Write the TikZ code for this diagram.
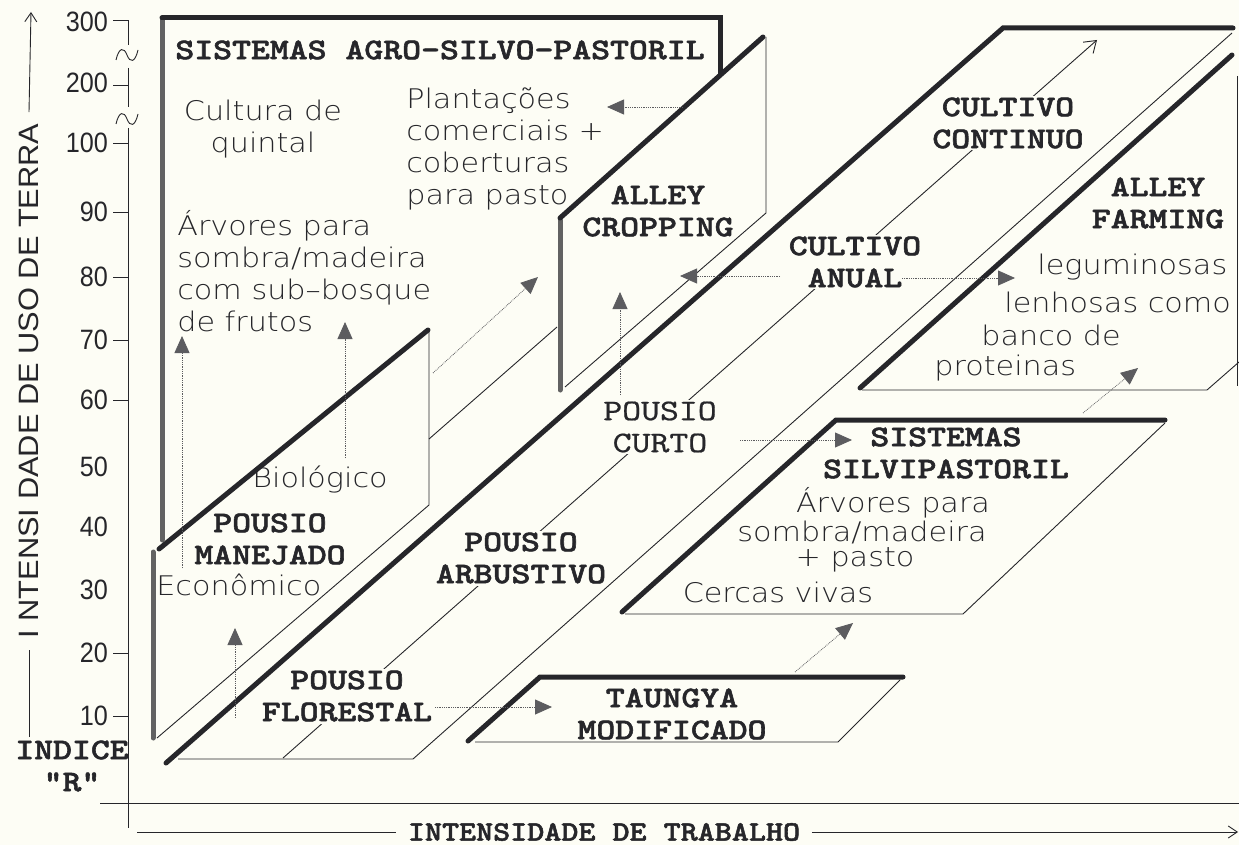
\documentclass[tikz,border=0pt]{standalone}
\usepackage{fontspec}
\usetikzlibrary{arrows.meta}
\newfontfamily\notefont{DejaVu Sans ExtraLight}
\newfontfamily\tickfont{Liberation Sans}
\newfontfamily\sysfont{lmmonolt10-bold.otf}[FakeBold=1.6]
\newfontfamily\sysfontlight{lmmono10-regular.otf}[FakeBold=0.6]
\definecolor{paper}{RGB}{253,253,245}
\definecolor{ink}{RGB}{38,38,42}
\definecolor{screen}{RGB}{98,98,98}

\tikzset{
  heavy/.style={draw=ink, line width=5pt, line cap=round},
  halftone/.style={draw=screen, line width=5pt, line cap=round},
  fine/.style={draw=ink, line width=0.9pt},
  flow/.style={draw=ink!75, line width=0.8pt, densely dotted, -{Triangle[length=17pt,width=15pt]}},
  sysname/.style={font=\sysfont\fontsize{30}{32}\selectfont, align=center, xscale=1.2, text=ink, inner sep=2pt},
  phase/.style={sysname, fill=paper},
  note/.style={font=\notefont\fontsize{27}{32}\selectfont, xscale=1.12, text=ink, inner sep=1pt},
  tick/.style={font=\tickfont\fontsize{28}{30}\selectfont, xscale=0.9, anchor=east, inner sep=0pt, text=ink},
}

\begin{document}
\begin{tikzpicture}[x=1pt, y=-1pt]
\useasboundingbox[fill=paper] (0,0) rectangle (1239,845);

% eixo vertical
\foreach \v/\h in {300/22,200/83,100/143,90/212,80/277,70/340,60/400,50/467,40/527,30/590,20/653,10/716}
  \node[tick] (t\v) at (108,\h) {\v};
\foreach \h in {85,143,212,277,340,400,653,716}
  \draw[fine] (113,\h) -- (128,\h);
\draw[fine] (113,20) -- (128,20) -- (128,45);
\draw[fine] (116,60) .. controls (119,47) and (124,47) .. (127,55) .. controls (130,63) and (135,63) .. (138,50);
\draw[fine] (128,68) -- (128,107);
\draw[fine] (116,124) .. controls (119,111) and (124,111) .. (127,119) .. controls (130,127) and (135,127) .. (138,114);
\draw[fine] (128,128) -- (128,828);
\draw[fine] (100,803) -- (1239,803);

\node[font=\tickfont\fontsize{28}{30}\selectfont, rotate=90, xscale=1.1, inner sep=10pt, text=ink] (ytitle) at (29,381) {I NTENSI DADE DE USO DE TERRA};
\coordinate (ybase) at (29,737);
\coordinate (ytop) at (31,12);
\draw[fine] (ybase) -- (ytitle.west);
\draw[fine, -{Straight Barb[length=9pt,width=12pt]}] (ytitle.east) -- (ytop);

\node[font=\sysfont\fontsize{28}{30}\selectfont, xscale=1.16, inner sep=10pt, text=ink] (xtitle) at (604,832) {INTENSIDADE DE TRABALHO};
\coordinate (xbase) at (137,832);
\coordinate (xend) at (1238,832);
\draw[fine] (xbase) -- (xtitle.west);
\draw[fine, -{Straight Barb[length=9pt,width=12pt]}] (xtitle.east) -- (xend);

\node[sysname] (indice) at (72,766) {INDICE\\"R"};

% linha de sucessao
\coordinate (trajA) at (283,758);
\coordinate (trajB) at (1097,40);
\draw[fine, -{Straight Barb[length=11pt,width=15pt]}] (trajA) -- (trajB);

% nomes dos sistemas
\node[phase] (florestal) at (347,696) {POUSIO\\FLORESTAL};
\node[phase] (arbustivo) at (521,558) {POUSIO\\ARBUSTIVO};
\node[phase, font=\sysfontlight\fontsize{30}{32}\selectfont] (curto) at (660,427) {POUSIO\\CURTO};
\node[phase] (anual) at (855,262) {CULTIVO\\ANUAL};
\node[phase] (continuo) at (1008,123) {CULTIVO\\CONTINUO};
\node[sysname] (agro) at (440,50) {SISTEMAS AGRO-SILVO-PASTORIL};
\node[sysname] (manejado) at (270,539) {POUSIO\\MANEJADO};
\node[sysname] (cropping) at (658,211) {ALLEY\\CROPPING};
\node[sysname] (farming) at (1158,203) {ALLEY\\FARMING};
\node[sysname] (silvi) at (946,453) {SISTEMAS\\SILVIPASTORIL};
\node[sysname] (taungya) at (672,714) {TAUNGYA\\MODIFICADO};

% textos
\node[note, align=center] (quintal) at (263,129) {Cultura de\\quintal};
\node[note, align=left, anchor=west] (arvores) at (176,271) {Árvores para\\sombra/madeira\\com sub–bosque\\de frutos};
\node[note, align=left, anchor=west] (plantacoes) at (405,149) {Plantações\\comerciais +\\coberturas\\para pasto};
\node[note] (biologico) at (320,480) {Biológico};
\node[note, anchor=west] (economico) at (155,585) {Econômico};
\node[note, anchor=west] (legum1) at (1036,267) {leguminosas};
\node[note, anchor=west] (legum2) at (1003,302) {lenhosas como};
\node[note, anchor=west] (legum3) at (980,335) {banco de};
\node[note, anchor=west] (legum4) at (933,368) {proteinas};
\node[note] (sombra1) at (893,503) {Árvores para};
\node[note] (sombra2) at (862,532) {sombra/madeira};
\node[note] (sombra3) at (855,560) {+ pasto};
\node[note] (cercas) at (778,592) {Cercas vivas};

% agro-silvo-pastoril
\draw[halftone] (162,540) -- (162,18);
\draw[heavy] (162,18) -- (720,18) -- (720,74);
% pousio manejado
\draw[halftone] (153,738) -- (153,552);
\draw[heavy] (159,549) -- (428,330);
\draw[fine] (429,330) -- (429,505) -- (157,738);
\draw[fine] (429,439) -- (557,327);
% alley cropping
\draw[halftone] (560,390) -- (560,220);
\draw[heavy] (560,218) -- (763,37);
\draw[fine] (766,37) -- (766,213) -- (565,387);
% faixa principal
\draw[heavy] (166,763) -- (1003,28) -- (1233,28);
\draw[fine] (178,759) -- (413,759) -- (1232,33);
% alley farming
\draw[heavy] (860,388) -- (1232,55);
\draw[fine] (862,390) -- (1207,390) -- (1239,362);
\draw[fine] (1237,76) -- (1237,386);
% silvipastoril
\draw[heavy] (622,612) -- (836,420) -- (1165,420);
\draw[fine] (625,614) -- (963,614) -- (1165,423);
% taungya
\draw[heavy] (468,741) -- (540,677) -- (903,677);
\draw[fine] (475,742) -- (838,742) -- (900,680);

% setas
\coordinate (a1) at (235,718); \coordinate (b1) at (235,628);
\coordinate (a2) at (182,568); \coordinate (b2) at (182,336);
\coordinate (a3) at (345,458); \coordinate (b3) at (345,322);
\coordinate (a4) at (433,373); \coordinate (b4) at (538,277);
\coordinate (a5) at (683,107); \coordinate (b5) at (607,107);
\coordinate (a6) at (620,395); \coordinate (b6) at (620,292);
\coordinate (a7) at (780,276); \coordinate (b7) at (680,276);
\coordinate (a8) at (902,278); \coordinate (b8) at (1015,278);
\coordinate (a9) at (1083,413); \coordinate (b9) at (1138,368);
\coordinate (a10) at (740,440); \coordinate (b10) at (852,440);
\coordinate (a11) at (795,672); \coordinate (b11) at (853,623);
\coordinate (a12) at (435,707); \coordinate (b12) at (552,707);
\foreach \i in {1,...,12}
  \draw[flow] (a\i) -- (b\i);
\end{tikzpicture}
\end{document}
